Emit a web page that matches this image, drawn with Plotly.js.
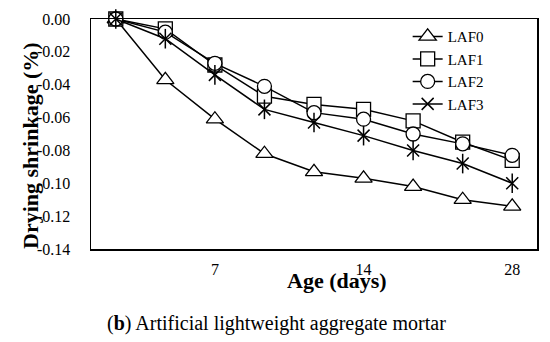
<!DOCTYPE html>
<html>
<head>
<meta charset="utf-8">
<script src="https://cdn.plot.ly/plotly-3.0.1.min.js"></script>
<style>html,body{margin:0;padding:0;background:#fff;}#chart{width:550px;height:342px;}</style>
</head>
<body>
<div id="chart"></div>
<script>
// Measurement points (index positions along a category axis)
var pointIndex = [0, 1, 2, 3, 4, 5, 6, 7, 8];
var xTickVals = [2, 5, 8];
var xTickText = ['7', '14', '28'];
var yTickVals = [0, -0.02, -0.04, -0.06, -0.08, -0.10, -0.12, -0.14];
var yTickText = ['0.00', '-0.02', '-0.04', '-0.06', '-0.08', '-0.10', '-0.12', '-0.14'];

var LAF0 = [0, -0.037, -0.061, -0.082, -0.093, -0.097, -0.102, -0.110, -0.114];
var LAF1 = [0, -0.006, -0.028, -0.047, -0.052, -0.055, -0.062, -0.075, -0.086];
var LAF2 = [0, -0.008, -0.027, -0.041, -0.057, -0.061, -0.070, -0.076, -0.083];
var LAF3 = [0, -0.012, -0.034, -0.055, -0.063, -0.071, -0.080, -0.088, -0.100];

var serif = 'Liberation Serif, Times New Roman, serif';
var ln = {color: '#000', width: 1.5};
function mk(sym, size) {
  return {symbol: sym, size: size, color: '#fff', line: {color: '#000', width: 1.3}};
}

var traces = [
  {x: pointIndex, y: LAF0, name: 'LAF0', mode: 'lines+markers', line: ln, marker: mk('triangle-up', 15), cliponaxis: false},
  {x: pointIndex, y: LAF1, name: 'LAF1', mode: 'lines+markers', line: ln, marker: mk('square', 14), cliponaxis: false},
  {x: pointIndex, y: LAF2, name: 'LAF2', mode: 'lines+markers', line: ln, marker: mk('circle', 14), cliponaxis: false},
  {x: pointIndex, y: LAF3, name: 'LAF3', mode: 'lines+markers', line: ln, marker: {symbol: 'x-thin-open', size: 12, color: '#000', line: {color: '#000', width: 1.5}}, cliponaxis: false, legendgroup: 'l3'},
  {x: pointIndex, y: LAF3, name: 'LAF3', mode: 'markers', showlegend: false, marker: {symbol: 'line-ns-open', size: 14, color: '#000', line: {color: '#000', width: 1.5}}, cliponaxis: false, legendgroup: 'l3'}
];

var layout = {
  width: 550, height: 342,
  margin: {l: 91, r: 13, t: 19, b: 93},
  paper_bgcolor: '#fff', plot_bgcolor: '#fff',
  font: {family: serif, color: '#000', size: 16},
  showlegend: true,
  legend: {x: 0.71, y: 0.995, xanchor: 'left', yanchor: 'top', bgcolor: 'rgba(0,0,0,0)', font: {family: serif, size: 15}, tracegroupgap: 0},
  xaxis: {
    range: [-0.5, 8.5], tickmode: 'array', tickvals: xTickVals, ticktext: xTickText,
    showgrid: false, zeroline: false, showline: true, mirror: true, linecolor: '#000', linewidth: 1.5,
    ticks: '', ticklabelstandoff: 5, tickfont: {family: serif, size: 16}, fixedrange: true
  },
  yaxis: {
    range: [-0.14, 0], tickmode: 'array', tickvals: yTickVals, ticktext: yTickText,
    showgrid: false, zeroline: false, showline: true, mirror: true, linecolor: '#000', linewidth: 1.5,
    ticks: '', ticklabelstandoff: 16, tickfont: {family: serif, size: 16}, fixedrange: true
  },
  annotations: [
    {text: '<b>Age (days)</b>', xref: 'paper', yref: 'paper', x: 0.552, y: -0.139, xanchor: 'center', yanchor: 'middle', showarrow: false, font: {family: serif, size: 22}},
    {text: '<b>Drying shrinkage (%)</b>', xref: 'paper', yref: 'paper', x: -0.137, y: 0.452, xanchor: 'center', yanchor: 'middle', textangle: -90, showarrow: false, font: {family: serif, size: 22}},
    {text: '(<b>b</b>) Artificial lightweight aggregate mortar', xref: 'paper', yref: 'paper', x: 0.415, y: -0.322, xanchor: 'center', yanchor: 'middle', showarrow: false, font: {family: serif, size: 20}}
  ]
};

Plotly.newPlot('chart', traces, layout, {displayModeBar: false, staticPlot: true});
</script>
</body>
</html>
